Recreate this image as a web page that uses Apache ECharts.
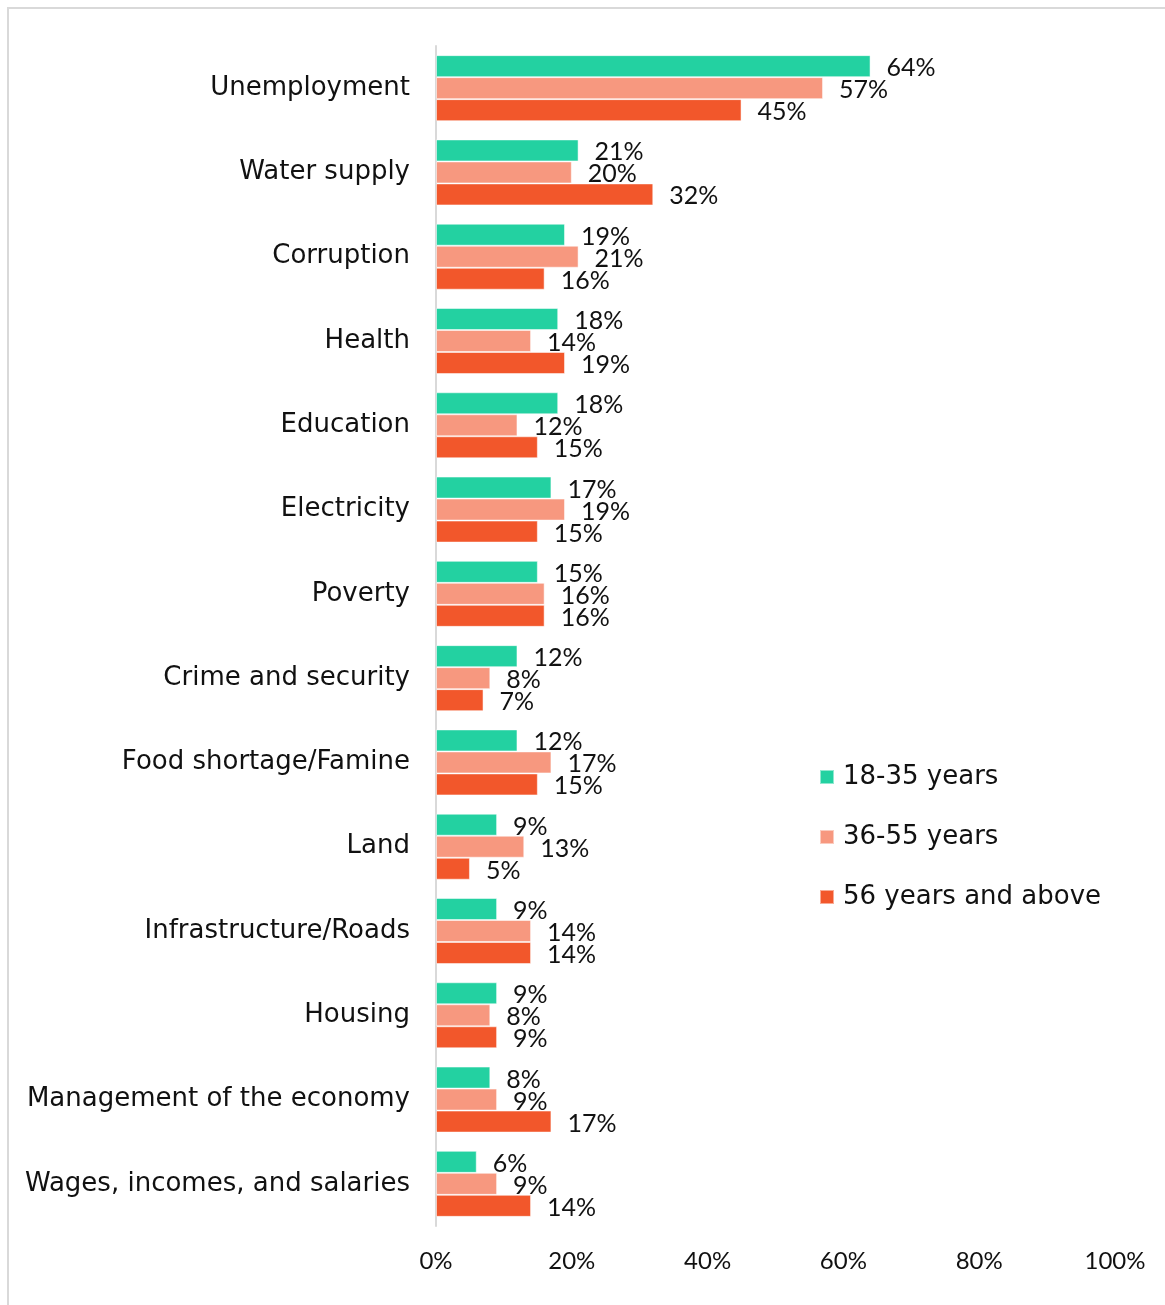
<!DOCTYPE html>
<html><head><meta charset="utf-8">
<script src="https://cdn.jsdelivr.net/npm/echarts@6/dist/echarts.min.js"></script>
<style>html,body{margin:0;padding:0;background:#fff}#c{width:1165px;height:1305px}</style>
</head><body><div id="c"></div>
<script>
const categories = ["Unemployment","Water supply","Corruption","Health","Education","Electricity","Poverty","Crime and security","Food shortage/Famine","Land","Infrastructure/Roads","Housing","Management of the economy","Wages, incomes, and salaries"];
const seriesNames = ["18-35 years","36-55 years","56 years and above"];
const young = [64,21,19,18,18,17,15,12,12,9,9,9,8,6];
const middle = [57,20,21,14,12,19,16,8,17,13,14,8,9,9];
const older = [45,32,16,19,15,15,16,7,15,5,14,9,17,14];
const colors = ["#23D1A1","#F7987F","#F2572B"];
const FONT = "Lato";
const WIDE = "DejaVu Sans";
const chart = echarts.init(document.getElementById('c'));
const mk = (name, data, color) => ({
  name, type: 'bar', data, barWidth: 22, barGap: '0%',
  itemStyle: {color, borderColor: 'rgba(255,255,255,0.5)', borderWidth: 1},
  label: {show: true, position: 'right', distance: 16, offset: [0, 2], formatter: '{c}%', color: '#111', fontSize: 25, fontFamily: FONT}
});
chart.setOption({
  animation: false,
  textStyle: {fontFamily: FONT},
  graphic: [{type: 'rect', shape: {x: 8, y: 8, width: 1300, height: 1400}, style: {fill: 'none', stroke: '#d9d9d9', lineWidth: 2}, silent: true}],
  grid: {left: 436, top: 46, right: 50, bottom: 79, containLabel: false},
  legend: {
    orient: 'vertical', left: 814, top: 759, itemWidth: 14, itemHeight: 14, itemGap: 34, icon: 'rect',
    textStyle: {fontSize: 26, color: '#111', fontFamily: WIDE, padding: [0,0,0,4]},
    data: seriesNames
  },
  xAxis: {
    type: 'value', min: 0, max: 100, interval: 20,
    axisLine: {show: false}, axisTick: {show: false}, splitLine: {show: false},
    axisLabel: {formatter: '{value}%', fontSize: 24, color: '#111', margin: 23, fontFamily: FONT}
  },
  yAxis: {
    type: 'category', data: categories, inverse: true,
    axisLine: {show: true, lineStyle: {color: '#d9d9d9', width: 2}}, axisTick: {show: false},
    axisLabel: {fontSize: 26, color: '#111', margin: 26, fontFamily: WIDE, padding: [3,0,0,0]}
  },
  series: [mk(seriesNames[0], young, colors[0]), mk(seriesNames[1], middle, colors[1]), mk(seriesNames[2], older, colors[2])]
});
</script></body></html>
